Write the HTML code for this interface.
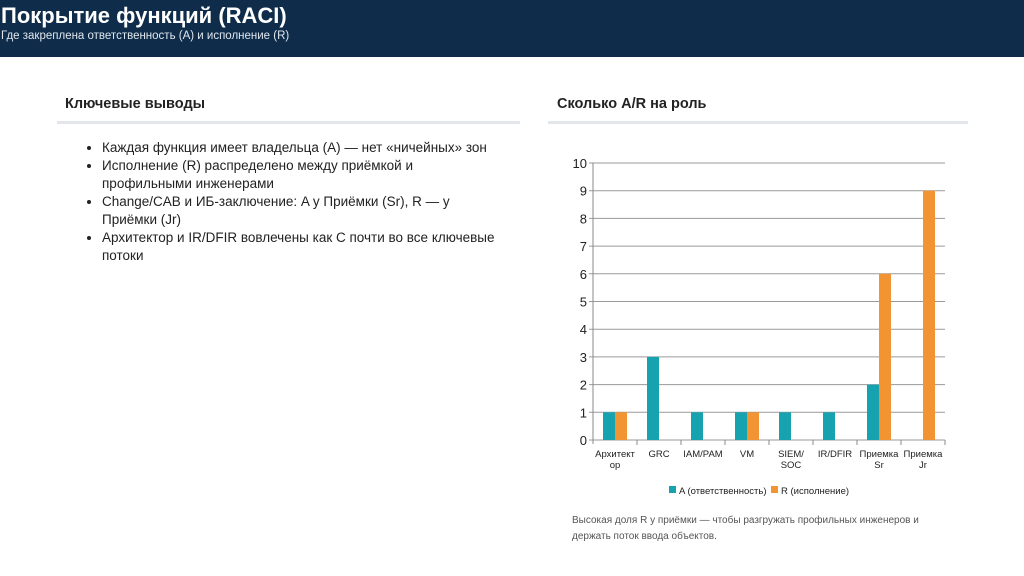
<!DOCTYPE html>
<html><head><meta charset="utf-8"><style>
body{margin:0;width:1024px;height:576px;background:#fff;font-family:"Liberation Sans","Noto Sans CJK SC",sans-serif;position:relative;overflow:hidden}
.hdr{position:absolute;left:0;top:0;width:1024px;height:57px;background:#0f2d4a}
.t{position:absolute;left:1px;top:3px;color:#fff;font-size:22px;font-weight:bold}
.st{position:absolute;left:1px;top:30px;color:#dfe6ee;font-size:11.5px}
.h{position:absolute;font-size:14.5px;font-weight:bold;color:#222}
.ln{position:absolute;height:3px;background:#e3e7eb}
ul{position:absolute;left:84px;top:139px;margin:0;padding-left:18px;width:420px;font-size:13.5px;line-height:18px;color:#222;white-space:nowrap}
li{margin:0}
.note{position:absolute;left:572px;top:513px;font-size:10px;line-height:16px;color:#555;width:380px}
</style></head><body>
<div class="hdr">
<div class="t">Покрытие функций (RACI)</div>
<div class="st">Где закреплена ответственность (A) и исполнение (R)</div>
</div>
<div class="h" style="left:65px;top:96px">Ключевые выводы</div>
<div class="ln" style="left:57px;top:121px;width:463px"></div>
<div class="h" style="left:557px;top:96px">Сколько A/R на роль</div>
<div class="ln" style="left:548px;top:121px;width:420px"></div>
<ul>
<li>Каждая функция имеет владельца (A) — нет «ничейных» зон</li>
<li>Исполнение (R) распределено между приёмкой и<br>профильными инженерами</li>
<li>Change/CAB и ИБ-заключение: A у Приёмки (Sr), R — у<br>Приёмки (Jr)</li>
<li>Архитектор и IR/DFIR вовлечены как C почти во все ключевые<br>потоки</li>
</ul>
<svg id="ch" style="position:absolute;left:0;top:0" width="1024" height="576"></svg>
<div class="note">Высокая доля R у приёмки — чтобы разгружать профильных инженеров и держать поток ввода объектов.</div>
<script>
const categories=[["Архитект","ор"],["GRC"],["IAM/PAM"],["VM"],["SIEM/","SOC"],["IR/DFIR"],["Приемка","Sr"],["Приемка","Jr"]];
const seriesA=[1,3,1,1,1,1,2,0];
const seriesR=[1,0,0,1,0,0,6,9];
const yTicks=[0,1,2,3,4,5,6,7,8,9,10];
const X0=593,X1=945,Y0=440,Y1=163,YMAX=10;
const NS="http://www.w3.org/2000/svg",svg=document.getElementById("ch");
const y=v=>Y0-(Y0-Y1)*v/YMAX;
const bw=(X1-X0)/categories.length;
const x=i=>X0+bw*i;
function mk(t,a,txt){const e=document.createElementNS(NS,t);for(const k in a)e.setAttribute(k,a[k]);if(txt!=null)e.textContent=txt;svg.appendChild(e);return e;}
yTicks.forEach(v=>{
 const g=mk("line",{x1:X0-4,x2:X1,y1:y(v),y2:y(v),stroke:"#9a9a9a","stroke-width":1});
 
 
 const t=mk("text",{x:X0-6,y:y(v)+5,"text-anchor":"end","font-size":13,fill:"#222"},v);
 
 
});
const ax=mk("line",{x1:X0,x2:X0,y1:Y1,y2:Y0+4,stroke:"#8a8a8a"});


categories.forEach((c,i)=>{
 const tk=mk("line",{x1:x(i+1),x2:x(i+1),y1:Y0,y2:Y0+5,stroke:"#8a8a8a"});
 
 
 const cx=x(i)+bw/2;
 c.forEach((s,j)=>{const t=mk("text",{x:cx,y:457+j*11,"text-anchor":"middle","font-size":9.5,fill:"#222"},s);
 
 });
 if(seriesA[i]>0){const r=mk("rect",{x:cx-12,y:y(seriesA[i]),width:12,height:Y0-y(seriesA[i]),fill:"#17a2b0"});
 
 }
 if(seriesR[i]>0){const r=mk("rect",{x:cx,y:y(seriesR[i]),width:12,height:Y0-y(seriesR[i]),fill:"#f39433"});
 
 }
});
const l1=mk("rect",{x:669,y:486,width:7,height:7,fill:"#17a2b0"});


const l1t=mk("text",{x:679,y:494,"font-size":9.5,fill:"#222"},"A (ответственность)");


const l2=mk("rect",{x:771,y:486,width:7,height:7,fill:"#f39433"});


const l2t=mk("text",{x:781,y:494,"font-size":9.5,fill:"#222"},"R (исполнение)");


</script>
</body></html>
